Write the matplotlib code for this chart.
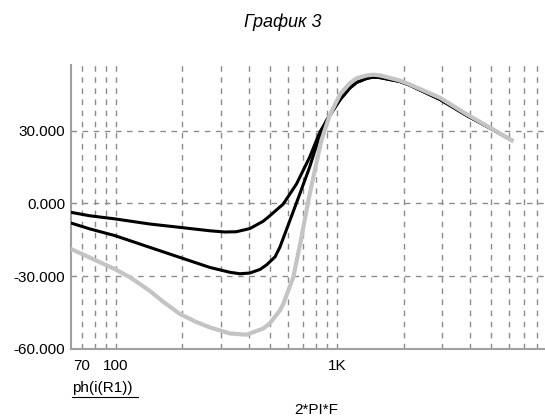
import matplotlib
matplotlib.use("Agg")
from matplotlib import pyplot as plt
from matplotlib.lines import Line2D

plt.rcParams['font.family'] = ['Liberation Sans', 'DejaVu Sans']

# frequency (2*PI*F) and phase values
gray_f = [62.6, 76, 99, 116, 142, 165, 195, 230, 266, 328, 390, 463, 497, 552, 571,
          634, 691, 742, 793, 850, 926, 1034, 1143, 1226, 1364, 1455, 1566, 1734,
          1924, 2131, 2925, 3863, 4925, 6170]
gray_v = [-18.8, -22.3, -27.1, -30.5, -36.0, -40.8, -45.6, -48.8, -51.1, -53.6, -54.1,
          -51.6, -49.4, -44.1, -41.5, -30.5, -14.0, 1.1, 13.5, 25.9, 36.2, 45.0, 49.5,
          51.5, 52.7, 53.0, 52.7, 51.7, 50.6, 49.0, 43.5, 36.7, 31.2, 26.0]

upper_f = [62.6, 76, 99, 142, 195, 266, 311, 350, 403, 463, 497, 571, 656, 752, 836,
           926, 1034, 1143, 1226, 1364, 1455, 1566, 1734, 1924, 2131, 2925, 3863,
           4925, 6170]
upper_v = [-3.7, -5.1, -6.4, -8.5, -9.9, -11.3, -11.8, -11.7, -10.4, -7.4, -5.1, -0.3,
           8.0, 19.0, 29.3, 36.2, 42.8, 47.5, 49.8, 51.5, 52.0, 51.8, 51.0, 50.2, 48.7,
           42.8, 36.2, 31.0, 26.0]

lower_f = [62.6, 76, 99, 142, 195, 266, 328, 364, 403, 449, 481, 525, 552, 612, 679,
           752, 821, 896, 1034, 1143, 1226, 1364, 1455, 1566, 1734, 1924, 2131, 2925,
           3863, 4925, 6170]
lower_v = [-8.1, -10.5, -13.3, -18.1, -22.3, -26.4, -28.4, -29.0, -28.7, -27.2, -25.3,
           -22.0, -18.0, -7.1, 3.9, 14.9, 25.9, 34.1, 42.8, 47.5, 49.8, 51.5, 52.0,
           51.8, 51.0, 50.2, 48.7, 42.8, 36.2, 31.0, 26.0]

x_ticks = [70, 100, 1000, 10000]
x_tick_labels = ["70", "100", "1K", "10K"]
y_ticks = [-60, -30, 0, 30]
y_tick_labels = ["-60.000", "-30.000", "0.000", "30.000"]

W, H = 545, 418
fig = plt.figure(figsize=(W / 100, H / 100), dpi=100)
ax = fig.add_axes([71 / W, 1 - 349 / H, (558 - 71) / W, (349 - 65) / H])

ax.set_xscale("log")
ax.set_xlim(62.6, 10000)
ax.set_ylim(-60, 57)

# dashed grid on every decade step
grid_kw = dict(color="#8c8c8c", lw=1.0, ls=(0, (4, 4)), zorder=0)
steps = [m * 10 ** e for e in (1, 2, 3) for m in range(1, 10)]
for xv in [v for v in steps if 62.6 < v < 10000]:
    ax.axvline(xv, **grid_kw)
for yv in [-30, 0, 30]:
    ax.axhline(yv, **grid_kw)

ax.plot(upper_f, upper_v, color="black", lw=2.2, zorder=3)
ax.plot(lower_f, lower_v, color="black", lw=2.2, zorder=3)
ax.plot(gray_f, gray_v, color="#c4c4c4", lw=3.0, zorder=4)

ax.set_xticks(x_ticks)
ax.set_xticklabels(x_tick_labels)
ax.xaxis.set_minor_locator(matplotlib.ticker.NullLocator())
ax.set_yticks(y_ticks)
ax.set_yticklabels(y_tick_labels)
ax.tick_params(length=0, labelsize=11, colors="black")
ax.tick_params(axis="x", pad=7)
ax.tick_params(axis="y", pad=4)

for s in ("top", "right"):
    ax.spines[s].set_visible(False)
for s in ("left", "bottom"):
    ax.spines[s].set_color("#a0a0a0")
    ax.spines[s].set_linewidth(1.5)

fig.text(283 / W, 1 - 22 / H, "График 3", ha="center", va="center",
         fontsize=13, style="italic")
fig.text(72 / W, 1 - 388 / H, "ph(i(R1))", ha="left", va="center", fontsize=11)
fig.add_artist(Line2D([72 / W, 138 / W], [1 - 397 / H, 1 - 397 / H],
                      color="black", lw=0.8))
fig.text(316 / W, 1 - 410 / H, "2*PI*F", ha="center", va="center", fontsize=11)

fig.savefig("out.png", dpi=100)
